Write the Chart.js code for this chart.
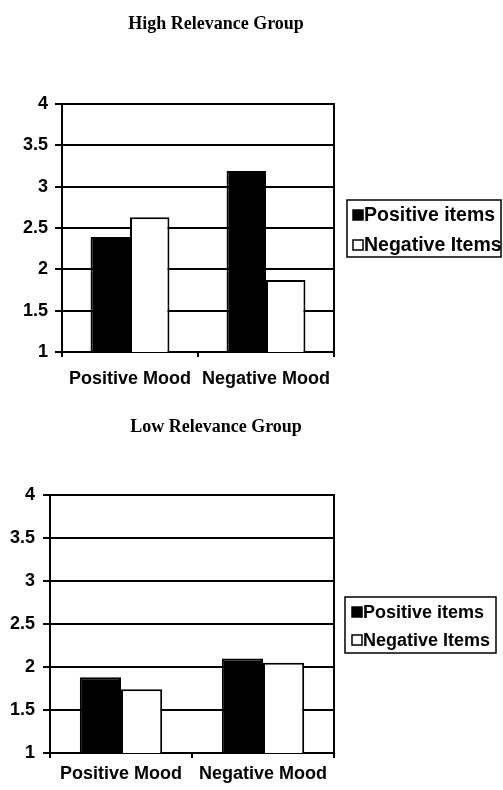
<!DOCTYPE html>
<html>
<head>
<meta charset="utf-8">
<script src="https://cdn.jsdelivr.net/npm/chart.js@4.4.1/dist/chart.umd.min.js"></script>
<style>
  html, body { margin: 0; padding: 0; background: #fff; }
  body { width: 503px; height: 790px; position: relative; overflow: hidden; }
  .wrap { position: absolute; left: 0; width: 503px; }
  .title { position: absolute; left: 0; width: 432px; text-align: center; color: #000;
           font: bold 18px/18px "Liberation Serif", "Times New Roman", serif; }
</style>
</head>
<body>
<div class="wrap" style="top:0;height:405px"><canvas id="highChart" width="503" height="405"></canvas></div>
<div class="wrap" style="top:405px;height:385px"><canvas id="lowChart" width="503" height="385"></canvas></div>
<div class="title" style="top:14px">High Relevance Group</div>
<div class="title" style="top:417px">Low Relevance Group</div>
<script>
  const moods = ['Positive Mood', 'Negative Mood'];
  const seriesNames = ['Positive items', 'Negative Items'];
  const highPositive = [2.39, 3.19];
  const highNegative = [2.63, 1.87];
  const lowPositive = [1.88, 2.10];
  const lowNegative = [1.74, 2.05];
  const yMin = 1, yMax = 4, yStep = 0.5;

  Chart.defaults.font.family = "'Liberation Sans', Arial, sans-serif";
  Chart.defaults.font.weight = 'bold';
  Chart.defaults.font.size = 18;
  Chart.defaults.color = '#000';

  // right edge of the plot frame + the boxed legend (old excel look)
  const boxLegend = {
    id: 'boxLegend',
    afterDraw(chart, args, opts) {
      const ctx = chart.ctx;
      const area = chart.chartArea;
      ctx.save();
      ctx.strokeStyle = '#000';
      ctx.lineWidth = 2;
      ctx.beginPath();
      ctx.moveTo(area.right, area.top - 1);
      ctx.lineTo(area.right, area.bottom + 1);
      ctx.stroke();

      const b = opts.box;
      ctx.lineWidth = 1.5;
      ctx.strokeRect(b.left, b.top, b.right - b.left, b.bottom - b.top);
      ctx.font = 'bold ' + opts.fontSize + 'px ' + Chart.defaults.font.family;
      ctx.textBaseline = 'alphabetic';
      chart.data.datasets.forEach((ds, i) => {
        const base = opts.rows[i];
        const top = base - opts.size - 1;
        ctx.fillStyle = ds.backgroundColor;
        ctx.fillRect(opts.x, top, opts.size, opts.size);
        ctx.lineWidth = 1.5;
        ctx.strokeRect(opts.x, top, opts.size, opts.size);
        ctx.fillStyle = '#000';
        ctx.fillText(ds.label, opts.x + opts.size + 1, base);
      });
      ctx.restore();
    }
  };

  function makeChart(id, pos, neg, lay) {
    return new Chart(document.getElementById(id), {
      type: 'bar',
      data: {
        labels: moods,
        datasets: [
          { label: seriesNames[0], data: pos, backgroundColor: '#000', borderColor: '#000', borderWidth: 2 },
          { label: seriesNames[1], data: neg, backgroundColor: '#fff', borderColor: '#000', borderWidth: 2 }
        ]
      },
      options: {
        responsive: false,
        animation: false,
        datasets: { bar: { categoryPercentage: 0.58, barPercentage: 1 } },
        layout: { padding: { top: lay.top, right: lay.right, left: 0, bottom: 0 } },
        plugins: {
          legend: { display: false },
          tooltip: { enabled: false },
          boxLegend: lay.legend
        },
        scales: {
          x: {
            grid: { drawOnChartArea: false, color: '#000', lineWidth: 2, tickLength: 5 },
            border: { color: '#000', width: 2 },
            ticks: { padding: lay.xPad },
            afterFit: (s) => { s.height = lay.xHeight; }
          },
          y: {
            min: yMin,
            max: yMax,
            ticks: { stepSize: yStep, padding: lay.yPad, callback: (v) => String(v) },
            grid: { color: '#000', lineWidth: 2, tickLength: 7 },
            border: { color: '#000', width: 2 },
            afterFit: (s) => { s.width = lay.yWidth; }
          }
        }
      },
      plugins: [boxLegend]
    });
  }

  makeChart('highChart', highPositive, highNegative, {
    top: 104, right: 169, xHeight: 53, yWidth: 62, xPad: 11, yPad: 7,
    legend: { box: { left: 347, top: 200, right: 501, bottom: 257 }, x: 353, size: 10, rows: [221, 251], fontSize: 19.5 }
  });

  makeChart('lowChart', lowPositive, lowNegative, {
    top: 90, right: 169, xHeight: 37, yWidth: 50, xPad: 5, yPad: 8,
    legend: { box: { left: 345, top: 192, right: 496, bottom: 248 }, x: 352, size: 10, rows: [213, 241], fontSize: 18 }
  });
</script>
</body>
</html>
